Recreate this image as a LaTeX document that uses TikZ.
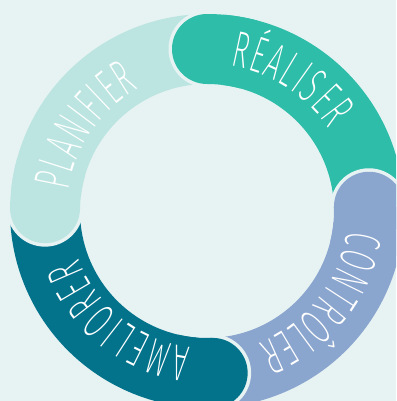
\documentclass[tikz,border=0pt]{standalone}
\usepackage{fontspec}
\usetikzlibrary{decorations.text}

% thin, narrow capitals for the stage names
\IfFontExistsTF{Fira Sans ExtraLight}
  {\newfontfamily\cyclefont{Fira Sans ExtraLight}[FakeStretch=0.52]}
  {\IfFontExistsTF{Fira Sans Light}
    {\newfontfamily\cyclefont{Fira Sans Light}[FakeStretch=0.52]}
    {\newfontfamily\cyclefont{Fira Sans}[FakeStretch=0.52]}}
\newcommand\cyclelabel{\fontsize{51}{51}\selectfont\cyclefont\color{white}}

\definecolor{cyclebg}{HTML}{E7F3F3}
\definecolor{planc}{HTML}{BCE5E1}
\definecolor{realc}{HTML}{2DBDA9}
\definecolor{ctrlc}{HTML}{8AA5CE}
\definecolor{amelc}{HTML}{03738C}

\begin{document}
\begin{tikzpicture}[x=1pt,y=1pt,
  band/.style={line width=70pt},
  label path/.style={decorate,
    decoration={text along path, text align=fit to path,
      text={|\cyclelabel|#1}}}]

\useasboundingbox (0,0) rectangle (396,401);
\fill[cyclebg] (0,0) rectangle (396,401);
\clip (0,0) rectangle (396,401);

% ring centre, mid radius 162
\coordinate (O) at (207,190);
\coordinate (hP) at ([shift={(179:162pt)}]O);
\coordinate (hR) at ([shift={(90:162pt)}]O);
\coordinate (hC) at ([shift={(1.5:162pt)}]O);
\coordinate (hA) at ([shift={(-88:162pt)}]O);

% the four bands, clockwise
\draw[band, planc] (hP) arc[start angle=179, end angle=90, radius=162pt];
\draw[band, realc] (hR) arc[start angle=90, end angle=1.5, radius=162pt];
\draw[band, ctrlc] (hC) arc[start angle=1.5, end angle=-88, radius=162pt];
\draw[band, amelc] (hA) arc[start angle=-88, end angle=-181, radius=162pt];

% rounded heads with a gap towards the previous band
\fill[cyclebg] (hP) circle[radius=38.5pt];
\fill[planc] (hP) circle[radius=35pt];
\draw[band, planc] (hP) arc[start angle=179, end angle=164, radius=162pt];

\fill[cyclebg] (hR) circle[radius=38.5pt];
\fill[realc] (hR) circle[radius=35pt];
\draw[band, realc] (hR) arc[start angle=90, end angle=75, radius=162pt];

\fill[cyclebg] (hC) circle[radius=38.5pt];
\fill[ctrlc] (hC) circle[radius=35pt];
\draw[band, ctrlc] (hC) arc[start angle=1.5, end angle=-13.5, radius=162pt];

\fill[cyclebg] (hA) circle[radius=38.5pt];
\fill[amelc] (hA) circle[radius=35pt];
\draw[band, amelc] (hA) arc[start angle=-88, end angle=-103, radius=162pt];

% stage names along the bands
\path[label path=PLANIFIER] ([shift={(171.5:140pt)}]O)
  arc[start angle=171.5, end angle=119, radius=140pt];
\path[label path=RÉALISER] ([shift={(81:147pt)}]O)
  arc[start angle=81, end angle=34, radius=147pt];
\path[label path=CONTRÔLER] ([shift={(-8:142pt)}]O)
  arc[start angle=-8, end angle=-69, radius=142pt];
\path[label path=AMELIORER] ([shift={(-96.7:137pt)}]O)
  arc[start angle=-96.7, end angle=-159.8, radius=137pt];

\end{tikzpicture}
\end{document}
